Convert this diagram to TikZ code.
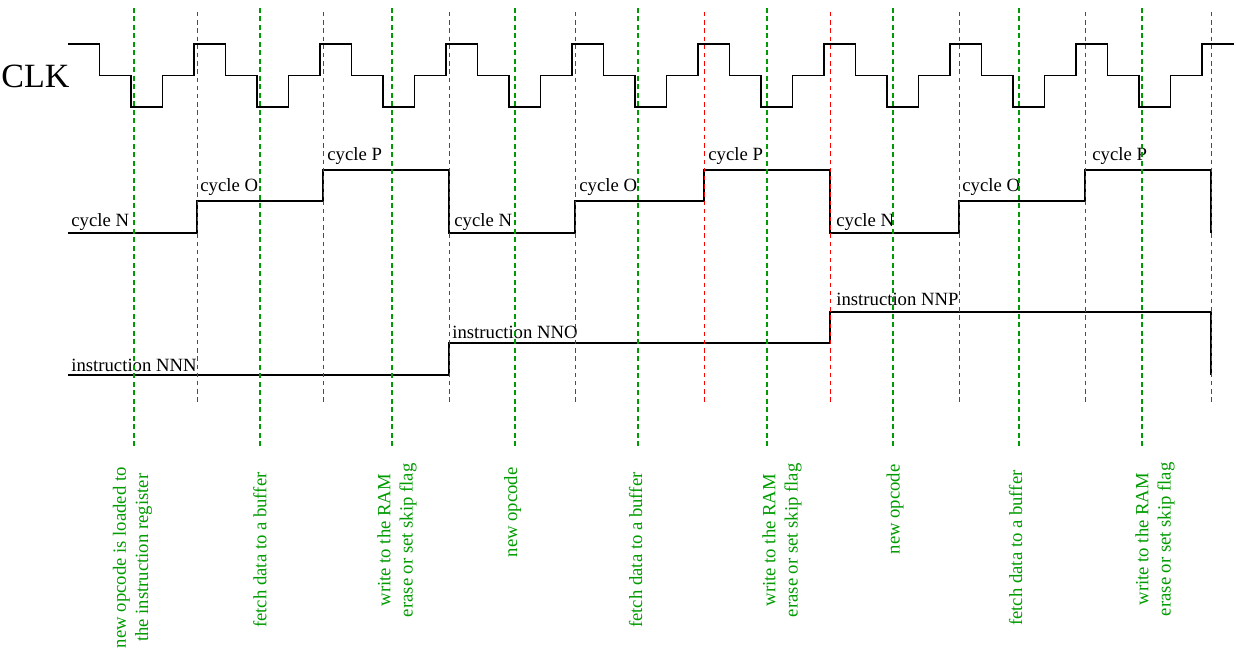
\documentclass[tikz,border=0pt]{standalone}
\usepackage{fontspec}
\setmainfont{Liberation Serif}
\definecolor{stepgreen}{RGB}{0,155,0}
\tikzset{
  wave/.style={line width=0.75pt},
  edgeline/.style={red, line width=0.45pt, dash pattern=on 2.2pt off 1.9pt},
  stepline/.style={stepgreen, line width=0.6pt, dash pattern=on 2.5pt off 1.75pt},
  sig/.style={anchor=base west, inner sep=0pt},
  steplabel/.style={stepgreen, rotate=90, anchor=east, align=center, inner sep=0pt}
}
\begin{document}
\begin{tikzpicture}[x=0.5pt,y=-0.5pt,font=\fontsize{9.35pt}{11.2pt}\selectfont]
  \useasboundingbox (0,0) rectangle (1236,651);
  \node[anchor=west, inner sep=0pt, font=\fontsize{17pt}{20pt}\selectfont] (clk) at (1,76) {CLK};
  % clock, cycle and instruction lines
  \draw[wave] (68,44) foreach \k in {0,...,8} {
      -- ++(31.5,0) -- ++(0,31.5) -- ++(31.5,0) -- ++(0,31.5)
      -- ++(31.5,0) -- ++(0,-31.5) -- ++(31.5,0) -- ++(0,-31.5)} -- ++(31.5,0);
  \draw[wave] (68,233) -| (197,201) -| (323,170) -| (449,233) -| (575,201)
      -| (704,170) -| (830,233) -| (959,201) -| (1085,170) -| (1211,233);
  \draw[wave] (68,375) -| (449,343) -| (830,312) -| (1211,375);
  \node[sig] (cycN1) at (71,227) {cycle N};
  \node[sig] (cycO1) at (200,192) {cycle O};
  \node[sig] (cycP1) at (327,161) {cycle P};
  \node[sig] (cycN2) at (454,227) {cycle N};
  \node[sig] (cycO2) at (579,192) {cycle O};
  \node[sig] (cycP2) at (708,161) {cycle P};
  \node[sig] (cycN3) at (836,227) {cycle N};
  \node[sig] (cycO3) at (962,192) {cycle O};
  \node[sig] (cycP3) at (1092,161) {cycle P};
  \node[sig] (insN) at (71,372) {instruction NNN};
  \node[sig] (insO) at (452,339) {instruction NNO};
  \node[sig] (insP) at (836,306) {instruction NNP};
  % dashed markers
  \foreach \x in {197,323,449,575,704,830,959,1085,1211}
    \draw[edgeline] (\x,12) -- (\x,405);
  \foreach \x in {134,260,392,515,638,767,893,1019,1142}
    \draw[stepline] (\x,8) -- (\x,446);
  \foreach \x/\y/\txt [count=\i] in {
      132.5/467/{new opcode is loaded to\\the instruction register},
      260/472/{fetch data to a buffer},
      397/463/{write to the RAM\\erase or set skip flag},
      512.5/467/{new opcode},
      635.5/472/{fetch data to a buffer},
      782/463/{write to the RAM\\erase or set skip flag},
      895/464/{new opcode},
      1015.5/470/{fetch data to a buffer},
      1155/462/{write to the RAM\\erase or set skip flag}}
    \node[steplabel] (step\i) at (\x,\y) {\txt};
\end{tikzpicture}
\end{document}
